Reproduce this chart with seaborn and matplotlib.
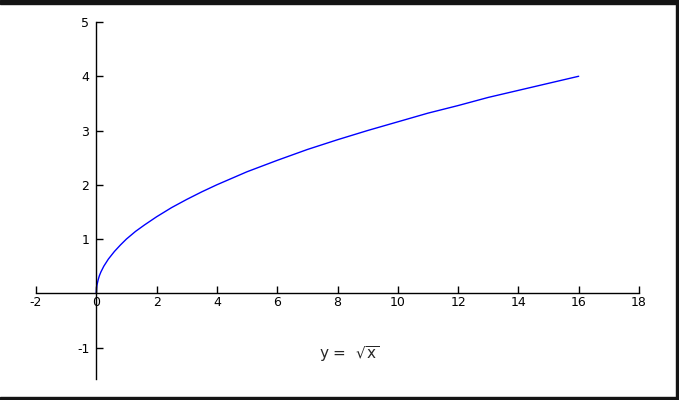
import matplotlib
matplotlib.use("Agg")
import matplotlib.pyplot as plt
import seaborn as sns
import pandas as pd

# points
x_vals = [0, 0.01, 0.03, 0.06, 0.1, 0.15, 0.25, 0.4, 0.6, 0.8, 1, 1.3, 1.6, 2, 2.5, 3, 3.5, 4,
          5, 6, 7, 8, 9, 10, 11, 12, 13, 14, 15, 16]
y_vals = [0, 0.1, 0.17, 0.245, 0.32, 0.39, 0.5, 0.63, 0.77, 0.89, 1, 1.14, 1.26, 1.41, 1.58,
          1.73, 1.87, 2, 2.24, 2.45, 2.65, 2.83, 3, 3.16, 3.32, 3.46, 3.61, 3.74, 3.87, 4]
x_ticks = [-2, 0, 2, 4, 6, 8, 10, 12, 14, 16, 18]
y_ticks = [-1, 1, 2, 3, 4, 5]
label = "y =  $\\sqrt{\\mathrm{x}}$"

sns.set_style("white")
plt.rcParams["font.family"] = ["DejaVu Sans"]
plt.rcParams["axes.unicode_minus"] = False
plt.rcParams["mathtext.fontset"] = "dejavusans"

fig = plt.figure(figsize=(6.79, 4.0), dpi=100)
ax = fig.add_axes([36 / 679, 21 / 400, 603 / 679, 357 / 400])

df = pd.DataFrame({"x": x_vals, "y": y_vals})
sns.lineplot(data=df, x="x", y="y", ax=ax, color="blue", linewidth=1, sort=False)

ax.set_xlim(-2, 18)
ax.set_ylim(-1.58, 5)
ax.set_xlabel("")
ax.set_ylabel("")
ax.spines["top"].set_visible(False)
ax.spines["right"].set_visible(False)
ax.spines["left"].set_position(("data", 0))
ax.spines["bottom"].set_position(("data", 0))
for s in ["left", "bottom"]:
    ax.spines[s].set_color("black")
    ax.spines[s].set_linewidth(1)
ax.spines["bottom"].set_bounds(-2, 18)
ax.spines["left"].set_bounds(-1.58, 5)

ax.set_xticks(x_ticks)
ax.set_yticks(y_ticks)
ax.tick_params(axis="both", direction="in", length=5, width=1, color="black",
               labelsize=9, labelcolor="black", bottom=True, left=True)
ax.tick_params(axis="x", pad=2)
ax.tick_params(axis="y", pad=5)

ax.text(8.4, -1.12, label, ha="center", va="center", fontsize=11)

# dark frame around the picture
fig.patches.append(plt.Rectangle((0, 396 / 400), 1, 4 / 400, transform=fig.transFigure,
                                 color="#141414", zorder=10))
fig.patches.append(plt.Rectangle((0, 0), 1, 3 / 400, transform=fig.transFigure,
                                 color="#141414", zorder=10))
fig.patches.append(plt.Rectangle((676 / 679, 0), 3 / 679, 1, transform=fig.transFigure,
                                 color="#141414", zorder=10))

fig.savefig("out.png", dpi=100)
